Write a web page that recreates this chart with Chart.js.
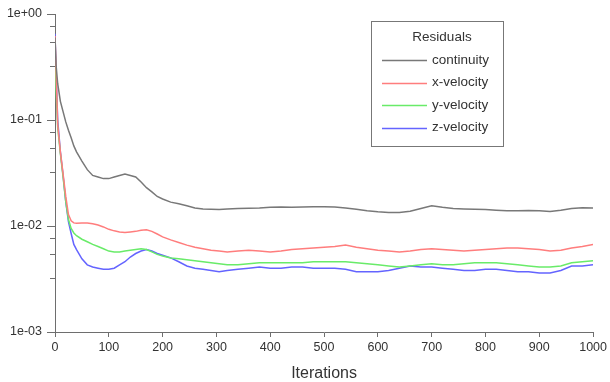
<!DOCTYPE html>
<html>
<head>
<meta charset="utf-8">
<script src="https://cdn.jsdelivr.net/npm/chart.js@4.4.1/dist/chart.umd.min.js"></script>
<style>
  body { margin: 0; background: #fff; }
  canvas { display: block; }
</style>
</head>
<body>
<canvas id="myChart" width="610" height="382"></canvas>
<script>
const iterations = [0, 2, 5, 10, 15, 20, 25, 30, 35, 40, 50, 60, 70, 80, 90, 100, 110, 120, 130, 140,
    150, 160, 170, 180, 190, 200, 215, 230, 245, 260, 275, 290, 305, 320, 340, 360, 380, 400, 420, 440,
    460, 480, 500, 520, 540, 560, 580, 600, 620, 640, 660, 680, 700, 720, 740, 760, 780, 800, 820, 840,
    860, 880, 900, 920, 940, 960, 980, 1000];

const continuity = [0.6, 0.33, 0.22, 0.15, 0.12, 0.096, 0.08, 0.068, 0.057, 0.05,
    0.041, 0.034, 0.030, 0.029, 0.028, 0.028, 0.029, 0.030, 0.031, 0.030,
    0.029, 0.026, 0.023, 0.021, 0.019, 0.018, 0.0168, 0.0162, 0.0155, 0.0148,
    0.0145, 0.0144, 0.0143, 0.0145, 0.0146, 0.0147, 0.0148, 0.015, 0.0151, 0.015,
    0.0151, 0.0152, 0.0152, 0.0151, 0.0148, 0.0144, 0.0139, 0.0136, 0.0134, 0.0134,
    0.0138, 0.0146, 0.0155, 0.0150, 0.0146, 0.0145, 0.0144, 0.0143, 0.0141, 0.0139,
    0.0139, 0.0140, 0.0139, 0.0137, 0.0141, 0.0146, 0.0149, 0.0148];

const xVelocity = [0.62, 0.3, 0.09, 0.05, 0.031, 0.019, 0.0128, 0.0112, 0.0107, 0.0106,
    0.0107, 0.0107, 0.0105, 0.0102, 0.0098, 0.0093, 0.0090, 0.0088, 0.0087, 0.0088,
    0.0089, 0.0091, 0.0092, 0.0089, 0.0084, 0.0079, 0.0074, 0.0070, 0.0066, 0.0063,
    0.0061, 0.0059, 0.0058, 0.0057, 0.0058, 0.0059, 0.0058, 0.0057, 0.0058, 0.0060,
    0.0061, 0.0062, 0.0063, 0.0064, 0.0066, 0.0063, 0.0061, 0.0059, 0.0058, 0.0057,
    0.0058, 0.0060, 0.0061, 0.0060, 0.0059, 0.0058, 0.0059, 0.0060, 0.0061, 0.0062,
    0.0062, 0.0061, 0.0060, 0.0058, 0.0059, 0.0062, 0.0064, 0.0067];

const yVelocity = [0.5, 0.2, 0.085, 0.048, 0.029, 0.017, 0.0115, 0.0095, 0.0086, 0.0081,
    0.0075, 0.0071, 0.0067, 0.0064, 0.0061, 0.0058, 0.0057, 0.0057, 0.0058, 0.0059,
    0.0060, 0.0061, 0.0060, 0.0057, 0.0054, 0.0052, 0.0050, 0.0049, 0.0048, 0.0047,
    0.0046, 0.0045, 0.0044, 0.0043, 0.0043, 0.0044, 0.0045, 0.0045, 0.0045, 0.0045,
    0.0045, 0.0046, 0.0046, 0.0046, 0.0046, 0.0045, 0.0044, 0.0043, 0.0042, 0.0041,
    0.0042, 0.0043, 0.0044, 0.0043, 0.0043, 0.0044, 0.0045, 0.0045, 0.0045, 0.0044,
    0.0043, 0.0042, 0.0041, 0.0041, 0.0042, 0.0045, 0.0046, 0.0047];

const zVelocity = [0.65, 0.28, 0.1, 0.05, 0.03, 0.017, 0.011, 0.0085, 0.0067, 0.006,
    0.0049, 0.0043, 0.0041, 0.0040, 0.0039, 0.0039, 0.0040, 0.0043, 0.0046, 0.0051,
    0.0055, 0.0058, 0.0060, 0.0058, 0.0055, 0.0053, 0.0050, 0.0046, 0.0042, 0.0040,
    0.0039, 0.0038, 0.0037, 0.0038, 0.0039, 0.0040, 0.0041, 0.0040, 0.0040, 0.0041,
    0.0041, 0.0040, 0.0040, 0.0040, 0.0039, 0.0037, 0.0037, 0.0037, 0.0038, 0.0040,
    0.0042, 0.0041, 0.0041, 0.0040, 0.0039, 0.0038, 0.0038, 0.0039, 0.0039, 0.0038,
    0.0037, 0.0037, 0.0036, 0.0036, 0.0038, 0.0042, 0.0042, 0.0043];

const seriesNames = ["continuity", "x-velocity", "y-velocity", "z-velocity"];
const seriesColors = ["rgb(120,120,120)", "rgb(255,125,125)", "rgb(105,235,105)", "rgb(100,100,255)"];
const xTicks = [0, 100, 200, 300, 400, 500, 600, 700, 800, 900, 1000];
const yTicks = [1e-3, 1e-2, 1e-1, 1];
const legendTitle = "Residuals";

const axisColor = "#6e6e6e";
const textColor = "#333";
const fontFamily = "'Liberation Sans', Arial, sans-serif";

function fmtExp(v) {
    const e = Math.round(Math.log10(v));
    return "1e" + (e < 0 ? "-" : "+") + String(Math.abs(e)).padStart(2, "0");
}

// minor ticks on the log axis, like the solver plot
const minorTicks = {
    id: "minorTicks",
    afterDraw(chart) {
        const y = chart.scales.y;
        const ctx = chart.ctx;
        ctx.save();
        ctx.strokeStyle = axisColor;
        ctx.lineWidth = 1;
        for (let d = -3; d < 0; d++) {
            for (const f of [3.2, 5.4, 7.7]) {
                const py = Math.round(y.getPixelForValue(f * Math.pow(10, d))) + 0.5;
                ctx.beginPath();
                ctx.moveTo(y.right - 5, py);
                ctx.lineTo(y.right, py);
                ctx.stroke();
            }
        }
        ctx.restore();
    }
};

// boxed legend drawn inside the plot
const boxLegend = {
    id: "boxLegend",
    afterDraw(chart) {
        const ctx = chart.ctx;
        ctx.save();
        ctx.fillStyle = "#fff";
        ctx.fillRect(371.5, 21.5, 132, 125);
        ctx.strokeStyle = "#777";
        ctx.lineWidth = 1;
        ctx.strokeRect(371.5, 21.5, 132, 125);
        ctx.fillStyle = textColor;
        ctx.font = "13.5px " + fontFamily;
        ctx.textAlign = "center";
        ctx.textBaseline = "middle";
        ctx.fillText(legendTitle, 442, 37);
        ctx.textAlign = "left";
        chart.data.datasets.forEach((ds, i) => {
            const ly = 60 + i * 22.5;
            ctx.strokeStyle = ds.borderColor;
            ctx.lineWidth = 1.5;
            ctx.beginPath();
            ctx.moveTo(382, Math.round(ly) + 0.5);
            ctx.lineTo(427, Math.round(ly) + 0.5);
            ctx.stroke();
            ctx.fillStyle = textColor;
            ctx.fillText(ds.label, 432, ly);
        });
        ctx.restore();
    }
};

const allSeries = [continuity, xVelocity, yVelocity, zVelocity];

const ctx = document.getElementById("myChart").getContext("2d");
const myChart = new Chart(ctx, {
    type: "line",
    data: {
        datasets: allSeries.map((vals, i) => ({
            label: seriesNames[i],
            data: iterations.map((it, k) => ({ x: it, y: vals[k] })),
            borderColor: seriesColors[i],
            borderWidth: 1.5,
            pointRadius: 0,
            tension: 0,
            fill: false,
        })),
    },
    options: {
        responsive: false,
        animation: false,
        layout: { padding: { left: 0, right: 14, top: 14, bottom: 0 } },
        plugins: {
            legend: { display: false },
            tooltip: { enabled: false },
        },
        scales: {
            x: {
                type: "linear",
                min: 0,
                max: 1000,
                afterBuildTicks: (s) => { s.ticks = xTicks.map(v => ({ value: v })); },
                afterFit: (s) => { s.height = 50; },
                border: { display: true, color: axisColor, width: 1 },
                grid: { drawOnChartArea: false, drawTicks: true, tickLength: 5, color: axisColor },
                ticks: {
                    color: textColor,
                    padding: 3,
                    maxRotation: 0,
                    font: { family: fontFamily, size: 12.5 },
                    callback: (v) => String(v),
                },
                title: {
                    display: true,
                    text: "Iterations",
                    color: textColor,
                    padding: { top: 0, bottom: 0 },
                    font: { family: fontFamily, size: 16, lineHeight: 1 },
                },
            },
            y: {
                type: "logarithmic",
                min: 1e-3,
                max: 1,
                afterBuildTicks: (s) => { s.ticks = yTicks.map(v => ({ value: v })); },
                afterFit: (s) => { s.width = 55; },
                border: { display: true, color: axisColor, width: 1 },
                grid: { drawOnChartArea: false, drawTicks: true, tickLength: 8, color: axisColor },
                ticks: {
                    color: textColor,
                    padding: 5,
                    font: { family: fontFamily, size: 12.5 },
                    callback: (v) => fmtExp(v),
                },
            },
        },
    },
    plugins: [minorTicks, boxLegend],
});
</script>
</body>
</html>
